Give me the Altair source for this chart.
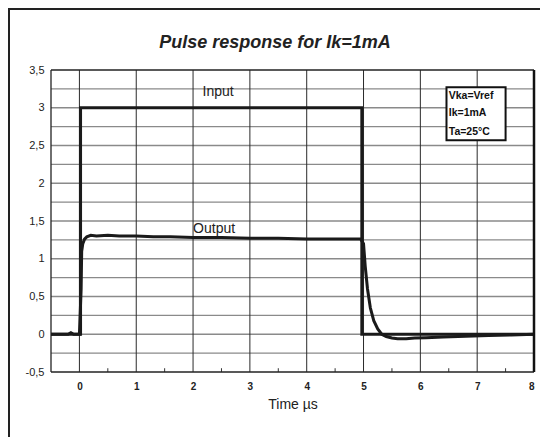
import altair as alt
import pandas as pd

# ---------------- data ----------------
input_x = [-0.5, 0.02, 0.02, 4.97, 4.97, 8.0]
input_y = [0.0, 0.0, 3.0, 3.0, 0.0, 0.0]

output_x = [-0.5, -0.2, -0.15, -0.1, 0.0, 0.03, 0.04, 0.06, 0.09, 0.13, 0.2, 0.3, 0.5,
            0.7, 1.0, 1.3, 1.6, 2.0, 2.5, 3.0, 3.5, 4.0, 4.5, 4.95, 5.0, 5.03, 5.07,
            5.12, 5.18, 5.25, 5.32, 5.4, 5.5, 5.6, 5.75, 5.9, 6.1, 6.4, 6.8, 7.2, 7.6, 8.0]
output_y = [0.0, 0.0, 0.02, 0.0, 0.0, 0.6, 1.1, 1.2, 1.26, 1.29, 1.31, 1.3, 1.31,
            1.3, 1.3, 1.29, 1.29, 1.28, 1.28, 1.27, 1.27, 1.26, 1.26, 1.26, 1.2, 0.9, 0.6,
            0.35, 0.18, 0.07, 0.0, -0.03, -0.05, -0.06, -0.06, -0.05, -0.045, -0.035, -0.025,
            -0.015, -0.01, 0.0]

x_ticks = [0, 1, 2, 3, 4, 5, 6, 7, 8]
y_ticks = [-0.5, 0, 0.5, 1, 1.5, 2, 2.5, 3, 3.5]
grid_x = [0, 1, 2, 3, 4, 5, 6, 7]
grid_y = [-0.25, 0, 0.25, 0.5, 0.75, 1, 1.25, 1.5, 1.75, 2, 2.25, 2.5, 2.75, 3, 3.25]
minor_x = [0.5, 1.5, 2.5, 3.5, 4.5, 5.5, 6.5, 7.5]

series_labels = ["Input", "Output"]
series_label_x = [2.44, 2.37]
series_label_y = [3.21, 1.39]

note_lines = ["Vka=Vref", "Ik=1mA", "Ta=25°C"]
note_y = [3.16, 2.93, 2.68]
note_x = 6.5
note_box = {"x": 6.46, "x2": 7.5, "y": 3.27, "y2": 2.57}

title_text = "Pulse response for Ik=1mA"
x_title = "Time µs"

FONT = "Liberation Sans"
W, H = 483, 302

xs = alt.Scale(domain=[-0.5, 8], nice=False, zero=False)
ys = alt.Scale(domain=[-0.5, 3.5], nice=False, zero=False)

x_axis = alt.Axis(values=x_ticks, grid=False, ticks=False, domain=False,
                  labelFont=FONT, labelFontSize=10, labelFontWeight="bold",
                  labelColor="#222", labelPadding=9,
                  titleFont=FONT, titleFontSize=14, titleFontWeight="normal",
                  titleColor="#222", titlePadding=6)
y_axis = alt.Axis(values=y_ticks, grid=False, ticks=False, domain=False,
                  labelExpr="replace(toString(datum.value), '.', ',')",
                  labelFont=FONT, labelFontSize=11, labelColor="#222",
                  labelPadding=7)


def X(f="x:Q"):
    return alt.X(f, scale=xs, axis=x_axis, title=x_title)


def Y(f="y:Q"):
    return alt.Y(f, scale=ys, axis=y_axis, title=None)


inp = pd.DataFrame({"x": input_x, "y": input_y, "i": range(len(input_x))})
out = pd.DataFrame({"x": output_x, "y": output_y, "i": range(len(output_x))})

axes_df = pd.DataFrame({"x": [-0.5, 8], "y": [-0.5, 3.5]})
axes = alt.Chart(axes_df).mark_point(opacity=0).encode(x=X(), y=Y())

hgrid = alt.Chart(pd.DataFrame({"y": grid_y})).mark_rule(color="#8a8a8a", strokeWidth=1.3).encode(y=Y())
vgrid = alt.Chart(pd.DataFrame({"x": grid_x})).mark_rule(color="#2a2a2a", strokeWidth=1).encode(x=X())
minor = alt.Chart(pd.DataFrame({"x": minor_x, "y": [-0.5] * len(minor_x), "y2": [-0.45] * len(minor_x)})).mark_rule(
    color="#333", strokeWidth=1).encode(x=X(), y=Y(), y2="y2:Q")

# plot border
border_h = alt.Chart(pd.DataFrame({"y": [3.5, -0.5]})).mark_rule(color="#222", strokeWidth=1.5).encode(y=Y())
border_l = alt.Chart(pd.DataFrame({"x": [-0.5]})).mark_rule(color="#222", strokeWidth=1.3).encode(x=X())
border_r = alt.Chart(pd.DataFrame({"x": [8]})).mark_rule(color="#111", strokeWidth=2.5).encode(x=X())

input_line = alt.Chart(inp).mark_line(color="#1a1a1a", strokeWidth=3, strokeJoin="miter").encode(
    x=X(), y=Y(), order="i:Q")
output_line = alt.Chart(out).mark_line(color="#1a1a1a", strokeWidth=3).encode(
    x=X(), y=Y(), order="i:Q")

lab = alt.Chart(pd.DataFrame({"t": series_labels, "x": series_label_x, "y": series_label_y})).mark_text(
    font=FONT, fontSize=14, color="#222").encode(x=X(), y=Y(), text="t:N")

box = alt.Chart(pd.DataFrame([note_box])).mark_rect(fill="white", stroke="#111", strokeWidth=2).encode(
    x=X(), x2="x2:Q", y=Y(), y2="y2:Q")
note = alt.Chart(pd.DataFrame({"t": note_lines, "y": note_y, "x": [note_x] * 3})).mark_text(
    font=FONT, fontSize=10.5, fontWeight="bold", color="#111", align="left").encode(
    x=X(), y=Y(), text="t:N")

# chart title as a text mark above the plot
title = alt.Chart(pd.DataFrame({"t": [title_text]})).mark_text(
    font=FONT, fontSize=18, fontWeight="bold", fontStyle="italic", color="#222",
    baseline="middle").encode(x=alt.value(224), y=alt.value(-27), text="t:N")

# outer frame (top and left edges)
one = pd.DataFrame({"a": [0]})
frame_l = alt.Chart(one).mark_rule(color="#222", strokeWidth=2).encode(
    x=alt.value(-42), y=alt.value(-61), y2=alt.value(380))
frame_t = alt.Chart(one).mark_rule(color="#222", strokeWidth=2).encode(
    x=alt.value(-43), x2=alt.value(495), y=alt.value(-61))

chart = alt.layer(
    axes, hgrid, vgrid, minor, border_h, border_l, input_line, output_line,
    border_r, lab, box, note, title, frame_l, frame_t
).properties(
    width=W, height=H,
    autosize=alt.AutoSizeParams(type="none"),
    padding={"left": 43, "top": 62, "right": 6, "bottom": 65},
).configure_view(stroke=None)

chart.save("out.html", embed_options={"renderer": "svg", "actions": False})
